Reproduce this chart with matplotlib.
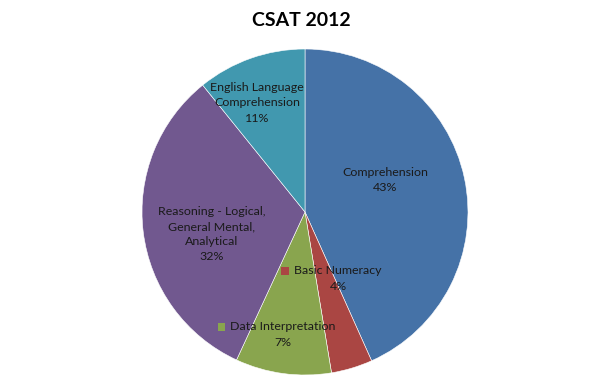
import matplotlib.pyplot as plt

# slice sizes as drawn (share of the circle), clockwise from 12 o'clock
sections = ["Comprehension", "Basic Numeracy", "Data Interpretation",
            "Reasoning - Logical,\nGeneral Mental,\nAnalytical",
            "English Language\nComprehension"]
shares = [43.3, 4.1, 9.5, 32.3, 10.8]
pct_text = ["43%", "4%", "7%", "32%", "11%"]
colors = ["#4572A7", "#AA4643", "#89A54E", "#71588F", "#4198AF"]

W, H = 602, 384
cx, cy, r = 305, H - 212, 163

fig = plt.figure(figsize=(W / 100, H / 100), dpi=100)
ax = fig.add_axes([0, 0, 1, 1])
ax.pie(shares, colors=colors, startangle=90, counterclock=False,
       center=(cx, cy), radius=r,
       wedgeprops=dict(edgecolor="white", linewidth=0.4))
ax.set_xlim(0, W)
ax.set_ylim(0, H)
ax.set_aspect("equal")
ax.axis("off")

font = ["Lato", "DejaVu Sans"]
fs = 8.9

# label anchor points (pixel coords from top-left)
label_pos = [(385, 180), (338, 279), (283, 335), (212, 234), (257, 103)]
keyed = [False, True, True, False, False]

renderer = fig.canvas.get_renderer()
for name, pct, col, (x, y), key in zip(sections, pct_text, colors, label_pos, keyed):
    if key:
        t = ax.text(x, H - y + 8, name, ha="center", va="center",
                    fontsize=fs, family=font, color="#1a1a1a")
        bb = t.get_window_extent(renderer)
        # legend key square in front of the name
        ax.scatter([bb.x0 - 9], [H - y + 8], marker="s", s=30, color=col,
                   edgecolors="none")
        ax.text(x, H - y - 8, pct, ha="center", va="center",
                fontsize=fs, family=font, color="#1a1a1a")
    else:
        ax.text(x, H - y, name + "\n" + pct, ha="center", va="center",
                fontsize=fs, family=font, color="#1a1a1a", linespacing=1.45)

ax.text(W / 2, H - 20, "CSAT 2012", ha="center", va="center",
        fontsize=14, fontweight="bold", family=font)

fig.savefig("out.png", dpi=100)
